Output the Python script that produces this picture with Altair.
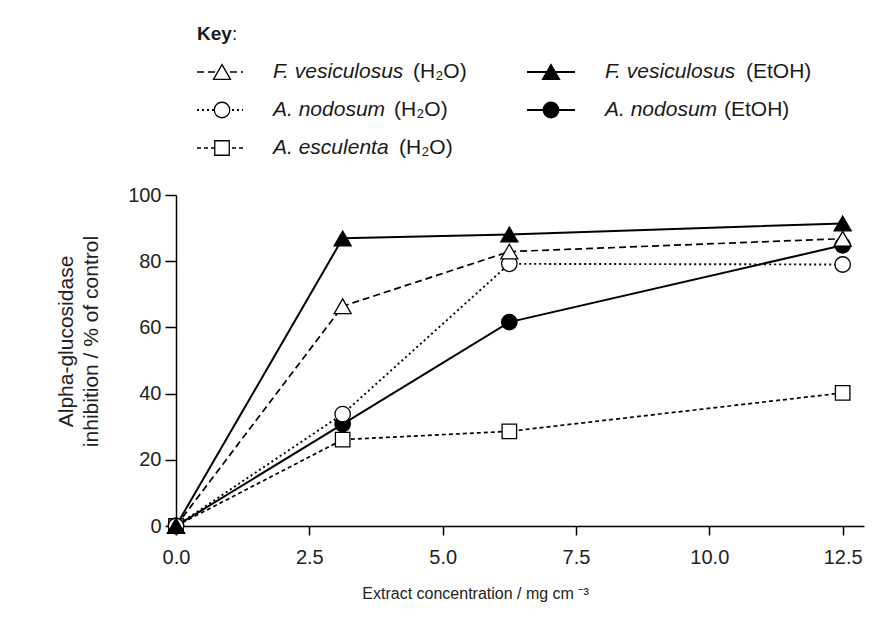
import altair as alt
import pandas as pd

# ---------------- data ----------------
x_conc = [0, 3.125, 6.25, 12.5]
fves_h2o = [0, 66.4, 82.9, 86.8]
anod_h2o = [0, 33.8, 79.2, 79.0]
aesc_h2o = [0, 26.1, 28.6, 40.2]
fves_etoh = [0, 86.9, 88.1, 91.4]
anod_etoh = [0, 30.8, 61.6, 84.8]

series_names = ["F. vesiculosus", "A. nodosum", "A. esculenta", "F. vesiculosus", "A. nodosum"]
series_solvent = ["(H₂O)", "(H₂O)", "(H₂O)", "(EtOH)", "(EtOH)"]
series_values = [fves_h2o, anod_h2o, aesc_h2o, fves_etoh, anod_etoh]

x_ticks = [0, 2.5, 5, 7.5, 10, 12.5]
y_ticks = [0, 20, 40, 60, 80, 100]

x_title = "Extract concentration / mg cm ⁻³"
y_title = ["Alpha-glucosidase", "inhibition / % of control"]
key_word = "Key"

# ---------------- styles / layout ----------------
FONT = "Liberation Sans"
W, H = 688, 331
styles = [
    dict(dash=[7, 4], shape="triangle-up", fill="white", lw=1.7, size=290),
    dict(dash=[2, 3], shape="circle", fill="white", lw=1.9, size=240),
    dict(dash=[4, 3], shape="square", fill="white", lw=1.7, size=210),
    dict(dash=None, shape="triangle-up", fill="black", lw=2.0, size=290),
    dict(dash=None, shape="circle", fill="black", lw=2.0, size=240),
]
draw_order = [2, 4, 1, 0, 3]
leg_col = [0, 0, 0, 1, 1]
leg_row = [1, 2, 3, 1, 2]
col_geom = [dict(x1=21, x2=67, xm=46, xt=97), dict(x1=351, x2=399, xm=375, xt=429)]
suffix_off = [140, 121, 126, 141, 119]
row_y = lambda r: -161 + r * 38
LEG_FS = 21

xs = alt.Scale(domain=[0, 12.9], nice=False, zero=False)
ys = alt.Scale(domain=[0, 100], nice=False)

line_layers, point_layers, leg_layers = [], [], []
for i, vals in enumerate(series_values):
    st = styles[i]
    df = pd.DataFrame({"x": x_conc, "y": vals})
    lkw = dict(color="black", strokeWidth=st["lw"])
    if st["dash"]:
        lkw["strokeDash"] = st["dash"]
    enc = dict(
        x=alt.X("x:Q", scale=xs),
        y=alt.Y("y:Q", scale=ys),
    )
    line_layers.append(alt.Chart(df).mark_line(**lkw).encode(**enc))
    pkw = dict(shape=st["shape"], size=st["size"], filled=True, fill=st["fill"],
               stroke="black", strokeWidth=1.3, opacity=1)
    point_layers.append(alt.Chart(df).mark_point(**pkw).encode(**enc))

    g = col_geom[leg_col[i]]
    ly = row_y(leg_row[i])
    ldf = pd.DataFrame({"x1": [g["x1"]], "x2": [g["x2"]], "xm": [g["xm"]],
                        "xt": [g["xt"]], "xs": [g["xt"] + suffix_off[i]], "y": [ly],
                        "name": [series_names[i]], "solv": [series_solvent[i]]})
    yenc = alt.Y("y:Q", scale=None, axis=None)
    leg_layers.append(alt.Chart(ldf).mark_rule(**lkw).encode(
        x=alt.X("x1:Q", scale=None, axis=None), x2="x2:Q", y=yenc))
    leg_layers.append(alt.Chart(ldf).mark_point(**pkw).encode(
        x=alt.X("xm:Q", scale=None, axis=None), y=yenc))
    leg_layers.append(alt.Chart(ldf).mark_text(
        font=FONT, fontSize=LEG_FS, fontStyle="italic", align="left", baseline="middle", color="#1a1a1a"
    ).encode(x=alt.X("xt:Q", scale=None, axis=None), y=yenc, text="name:N"))
    leg_layers.append(alt.Chart(ldf).mark_text(
        font=FONT, fontSize=LEG_FS, align="left", baseline="middle", color="#1a1a1a"
    ).encode(x=alt.X("xs:Q", scale=None, axis=None), y=yenc, text="solv:N"))

point_layers = [point_layers[k] for k in draw_order]

kdf = pd.DataFrame({"x": [21], "xc": [56], "y": [row_y(0)], "t": [key_word], "c": [":"]})
leg_layers.append(alt.Chart(kdf).mark_text(
    font=FONT, fontSize=19, fontWeight="bold", align="left", baseline="middle", color="#1a1a1a"
).encode(x=alt.X("x:Q", scale=None, axis=None), y=alt.Y("y:Q", scale=None, axis=None), text="t:N"))
leg_layers.append(alt.Chart(kdf).mark_text(
    font=FONT, fontSize=19, align="left", baseline="middle", color="#1a1a1a"
).encode(x=alt.X("xc:Q", scale=None, axis=None), y=alt.Y("y:Q", scale=None, axis=None), text="c:N"))

# axes carried by an invisible layer
axis_df = pd.DataFrame({"x": x_conc, "y": fves_h2o})
axes_layer = alt.Chart(axis_df).mark_point(opacity=0).encode(
    x=alt.X("x:Q", scale=xs, axis=alt.Axis(
        values=x_ticks, format=".1f", title=x_title, grid=False, labelFlush=False,
        tickSize=9, labelPadding=12, titleX=299, titleY=67,
        titleBaseline="middle", titleAlign="center", titleFontSize=16)),
    y=alt.Y("y:Q", scale=ys, axis=alt.Axis(
        values=y_ticks, format="d", title=y_title, grid=False, labelFlush=False,
        tickSize=11, labelPadding=4, titleX=-100, titleY=146, titleAngle=270,
        titleAlign="center", titleBaseline="bottom", titleFontSize=21,
        titleLineHeight=25)),
)

main = alt.layer(axes_layer, *line_layers, *point_layers)
legend = alt.layer(*leg_layers)

chart = alt.layer(main, legend).resolve_scale(x="independent", y="independent").properties(
    width=W, height=H,
    autosize=alt.AutoSizeParams(type="none"),
    padding={"left": 176, "top": 195, "right": 20, "bottom": 94},
    background="white",
).configure_view(stroke=None).configure_axis(
    domainColor="black", domainWidth=1.5, tickColor="black", tickWidth=1.5,
    labelFont=FONT, labelFontSize=20, labelColor="#222222",
    titleFont=FONT, titleFontWeight="normal", titleColor="#222222",
)

chart.save("out.html", embed_options={"renderer": "svg", "actions": False})
